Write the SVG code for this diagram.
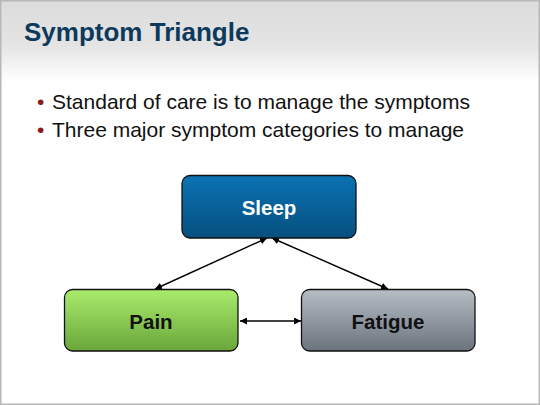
<svg xmlns="http://www.w3.org/2000/svg" width="540" height="405" viewBox="0 0 540 405">
<defs>
<linearGradient id="hdr" x1="0" y1="0" x2="0" y2="1"><stop offset="0" stop-color="#dcdcdc"/><stop offset="0.55" stop-color="#e4e4e4"/><stop offset="1" stop-color="#ffffff"/></linearGradient>
<linearGradient id="gBlue" x1="0" y1="0" x2="0" y2="1"><stop offset="0" stop-color="#0b72b3"/><stop offset="1" stop-color="#05507f"/></linearGradient>
<linearGradient id="gGreen" x1="0" y1="0" x2="0" y2="1"><stop offset="0" stop-color="#a9ec6c"/><stop offset="1" stop-color="#69a63a"/></linearGradient>
<linearGradient id="gGray" x1="0" y1="0" x2="0" y2="1"><stop offset="0" stop-color="#b5bdc5"/><stop offset="1" stop-color="#6b747d"/></linearGradient>
<marker id="ah" viewBox="0 0 10 10" refX="10" refY="5" markerWidth="7" markerHeight="7" orient="auto-start-reverse" markerUnits="userSpaceOnUse"><path d="M0,0 L10,5 L0,10 z" fill="#000"/></marker>
<style>
.box{stroke:#111;stroke-width:1.3}
.lbl{font-family:"Liberation Sans",Arial,sans-serif;font-weight:bold;font-size:20.5px;text-anchor:middle}
.conn{stroke:#000;stroke-width:1.4;fill:none;marker-start:url(#ah);marker-end:url(#ah)}
.bul{font-family:"Liberation Sans",Arial,sans-serif;font-size:21px;fill:#111}
</style>
</defs>
<rect x="0" y="0" width="540" height="405" fill="#fff"/>
<rect x="0" y="0" width="540" height="82" fill="url(#hdr)"/>
<rect x="0.75" y="0.75" width="538.5" height="403.5" fill="none" stroke="#b8b8b8" stroke-width="1.5"/>
<text x="24" y="41" font-family="'Liberation Sans',Arial,sans-serif" font-weight="bold" font-size="26" fill="#0d3a5c">Symptom Triangle</text>
<g id="bullets">
<text x="37" y="109" class="bul"><tspan fill="#8b1a1a">•</tspan></text>
<text x="52" y="109" class="bul">Standard of care is to manage the symptoms</text>
<text x="37" y="137" class="bul"><tspan fill="#8b1a1a">•</tspan></text>
<text x="52" y="137" class="bul">Three major symptom categories to manage</text>
</g>
<g id="connectors">
<line class="conn" x1="267" y1="238" x2="155" y2="289"/>
<line class="conn" x1="272" y1="238" x2="388" y2="289"/>
<line class="conn" x1="240" y1="321" x2="301" y2="321"/>
</g>
<g id="sleep">
<rect class="box" x="182" y="175.5" width="174" height="62.5" rx="8" fill="url(#gBlue)"/>
<text class="lbl" x="269" y="215" fill="#fff">Sleep</text>
</g>
<g id="pain">
<rect class="box" x="64.5" y="289.5" width="173.5" height="61.5" rx="8" fill="url(#gGreen)"/>
<text class="lbl" x="151" y="328.5" fill="#111">Pain</text>
</g>
<g id="fatigue">
<rect class="box" x="301.5" y="289.5" width="173.5" height="61.5" rx="8" fill="url(#gGray)"/>
<text class="lbl" x="388" y="328.5" fill="#111">Fatigue</text>
</g>
</svg>
